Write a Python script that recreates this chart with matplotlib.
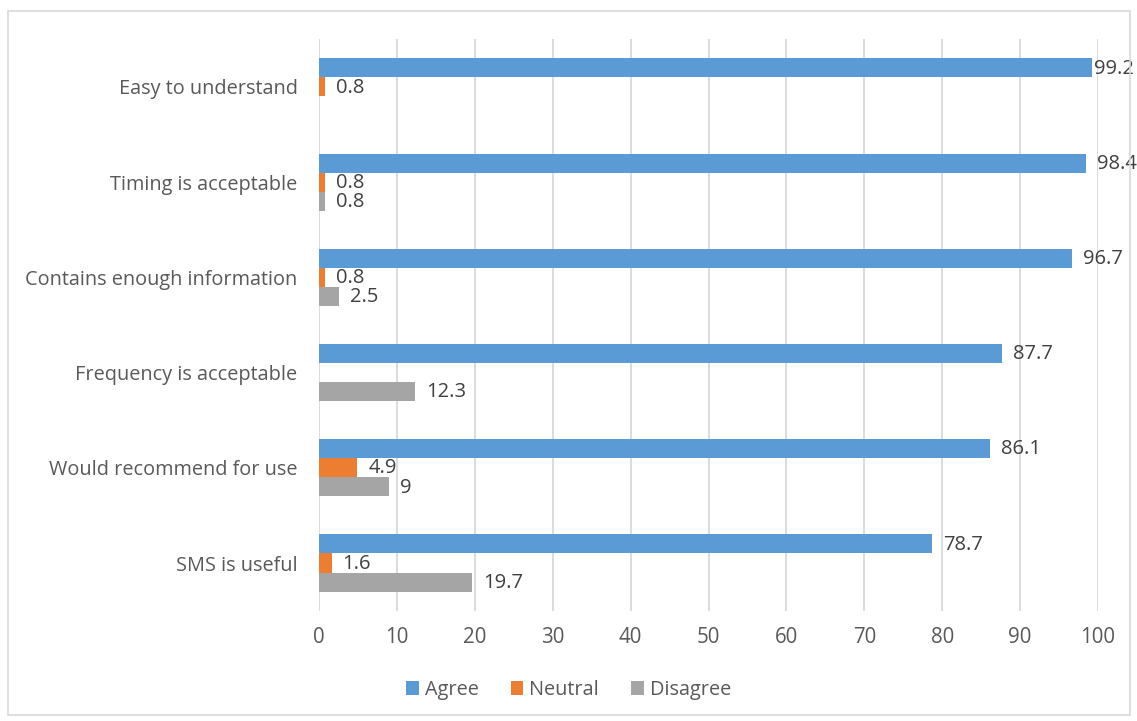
import matplotlib
matplotlib.use("Agg")
import matplotlib.pyplot as plt
from matplotlib.patches import Rectangle
import numpy as np

plt.rcParams['font.family'] = ['Open Sans', 'DejaVu Sans']

categories = ["Easy to understand", "Timing is acceptable", "Contains enough information",
              "Frequency is acceptable", "Would recommend for use", "SMS is useful"]
series_names = ["Agree", "Neutral", "Disagree"]
agree = [99.2, 98.4, 96.7, 87.7, 86.1, 78.7]
neutral = [0.8, 0.8, 0.8, None, 4.9, 1.6]
disagree = [None, 0.8, 2.5, 12.3, 9, 19.7]
colors = ["#5B9BD5", "#ED7D31", "#A5A5A5"]
xticks = [0, 10, 20, 30, 40, 50, 60, 70, 80, 90, 100]

fig = plt.figure(figsize=(11.37, 7.21), dpi=100)
ax = fig.add_axes([0.2806, 0.1531, 0.9657 - 0.2806, 0.9454 - 0.1531])

y = np.arange(len(categories))
h = 0.2
offsets = [-h, 0, h]
for vals, off, col, name in zip([agree, neutral, disagree], offsets, colors, series_names):
    xs = [v if v is not None else 0 for v in vals]
    ax.barh(y + off, xs, height=h, color=col, label=name, zorder=3)
    for yi, v in zip(y, vals):
        if v is None:
            continue
        lbl = f"{v:g}"
        pad = 1.5 if v > 99 else 8
        ax.annotate(lbl, (v, yi + off), xytext=(pad, -0.5), textcoords='offset points',
                    va='center', ha='left', fontsize=14.5, color='#404040', zorder=4,
                    annotation_clip=False)

ax.set_ylim(len(categories) - 0.5, -0.5)
ax.set_xlim(0, 100)
ax.set_xticks(xticks)
ax.set_xticklabels([str(t) for t in xticks])
ax.set_yticks(y)
ax.set_yticklabels(categories)
ax.tick_params(axis='both', length=0, labelcolor='#595959')
ax.tick_params(axis='x', pad=12, labelsize=14.8)
ax.tick_params(axis='y', pad=15.5, labelsize=14.3)
ax.grid(axis='x', color='#D9D9D9', linewidth=1.3, zorder=0)
for s in ax.spines.values():
    s.set_visible(False)

handles, labels = ax.get_legend_handles_labels()
leg = fig.legend(handles, labels, loc='center', bbox_to_anchor=(0.5, 0.043), ncol=3,
                 frameon=False, fontsize=14.3, handlelength=0.65, handleheight=0.65,
                 handletextpad=0.3, columnspacing=1.6)
for t in leg.get_texts():
    t.set_color('#595959')

fig.patches.append(Rectangle((8 / 1137, 1 - 715 / 721), (1130 - 8) / 1137, (715 - 11) / 721,
                             transform=fig.transFigure, fill=False, edgecolor='#D9D9D9',
                             linewidth=1.2))

fig.savefig("out.png", dpi=100)
